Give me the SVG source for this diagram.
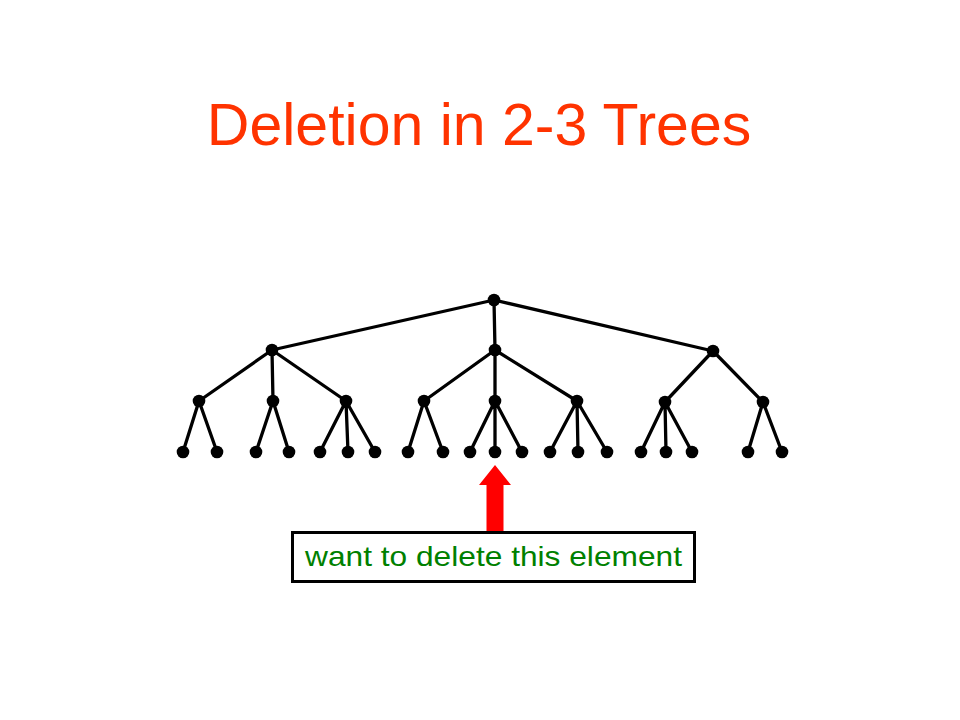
<svg xmlns="http://www.w3.org/2000/svg" width="960" height="720" viewBox="0 0 960 720">
<style>
.e{stroke:#000;stroke-width:3.3;fill:none;stroke-linecap:round}
.n{fill:#000}
.title{font-family:"Liberation Sans",Arial,sans-serif;font-size:59px;fill:#FF3300}
.lbl{font-family:"Liberation Sans",Arial,sans-serif;font-size:28px;fill:#008000}
</style>
<rect width="960" height="720" fill="#fff"/>
<text class="title" x="479" y="145" text-anchor="middle">Deletion in 2-3 Trees</text>
<g id="connectors">
<path class="e" d="M494,300 L272,350 M494,300 L495,350 M494,300 L713,351
M272,350 L199,401 M272,350 L273,401 M272,350 L346,401
M495,350 L424,401 M495,350 L495,401 M495,350 L577,401
M713,351 L665,402 M713,351 L763,402
M199,401 L183,452 M199,401 L217,452
M273,401 L256,452 M273,401 L289,452
M346,401 L320,452 M346,401 L348,452 M346,401 L375,452
M424,401 L408,452 M424,401 L443,452
M495,401 L470,452 M495,401 L495,452 M495,401 L522,452
M577,401 L550,452 M577,401 L578,452 M577,401 L607,452
M665,402 L641,452 M665,402 L666,452 M665,402 L692,452
M763,402 L748,452 M763,402 L782,452"/>
</g>
<g id="root"><circle class="n" cx="494" cy="300" r="6.3"/></g>
<g id="n1a"><circle class="n" cx="272" cy="350" r="6.3"/></g>
<g id="n1b"><circle class="n" cx="495" cy="350" r="6.3"/></g>
<g id="n1c"><circle class="n" cx="713" cy="351" r="6.3"/></g>
<g id="n2a"><circle class="n" cx="199" cy="401" r="6.3"/></g>
<g id="n2b"><circle class="n" cx="273" cy="401" r="6.3"/></g>
<g id="n2c"><circle class="n" cx="346" cy="401" r="6.3"/></g>
<g id="n2d"><circle class="n" cx="424" cy="401" r="6.3"/></g>
<g id="n2e"><circle class="n" cx="495" cy="401" r="6.3"/></g>
<g id="n2f"><circle class="n" cx="577" cy="401" r="6.3"/></g>
<g id="n2g"><circle class="n" cx="665" cy="402" r="6.3"/></g>
<g id="n2h"><circle class="n" cx="763" cy="402" r="6.3"/></g>
<g id="leaves">
<circle class="n" cx="183" cy="452" r="6.3"/>
<circle class="n" cx="217" cy="452" r="6.3"/>
<circle class="n" cx="256" cy="452" r="6.3"/>
<circle class="n" cx="289" cy="452" r="6.3"/>
<circle class="n" cx="320" cy="452" r="6.3"/>
<circle class="n" cx="348" cy="452" r="6.3"/>
<circle class="n" cx="375" cy="452" r="6.3"/>
<circle class="n" cx="408" cy="452" r="6.3"/>
<circle class="n" cx="443" cy="452" r="6.3"/>
<circle class="n" cx="470" cy="452" r="6.3"/>
<circle class="n" cx="495" cy="452" r="6.3"/>
<circle class="n" cx="522" cy="452" r="6.3"/>
<circle class="n" cx="550" cy="452" r="6.3"/>
<circle class="n" cx="578" cy="452" r="6.3"/>
<circle class="n" cx="607" cy="452" r="6.3"/>
<circle class="n" cx="641" cy="452" r="6.3"/>
<circle class="n" cx="666" cy="452" r="6.3"/>
<circle class="n" cx="692" cy="452" r="6.3"/>
<circle class="n" cx="748" cy="452" r="6.3"/>
<circle class="n" cx="782" cy="452" r="6.3"/>
</g>
<g id="arrow"><polygon points="495,465 511,485 503.5,485 503.5,531 486.5,531 486.5,485 479,485" fill="#FF0000"/></g>
<g id="label">
<rect x="292.5" y="532.5" width="402" height="49" fill="#fff" stroke="#000" stroke-width="3"/>
<text class="lbl" x="305" y="566" textLength="377" lengthAdjust="spacingAndGlyphs">want to delete this element</text>
</g>
</svg>
